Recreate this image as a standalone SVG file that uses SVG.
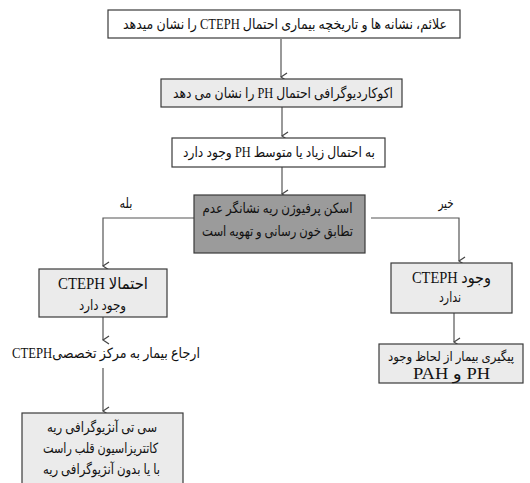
<svg xmlns="http://www.w3.org/2000/svg" width="530" height="483" viewBox="0 0 530 483">
<style>
.box{stroke:#3a3a3a;stroke-width:1.2}
.w{fill:#ffffff}
.l{fill:#ebebeb}
.d{fill:#9b9b9b}
text{font-family:"Liberation Serif","DejaVu Sans",serif;font-size:14px;fill:#111;text-anchor:middle;direction:rtl}
.big{font-size:16px}
.sm{font-size:13px}
.c{fill:none;stroke:#555;stroke-width:1.2}
</style>
<defs>
<marker id="ah" markerWidth="10" markerHeight="10" refX="5" refY="9" orient="auto" markerUnits="userSpaceOnUse" viewBox="0 0 10 10">
<path d="M1,3 L5,9 L9,3" fill="none" stroke="#444" stroke-width="1.3"/>
</marker>
</defs>
<rect x="0" y="0" width="530" height="483" fill="#fff"/>
<g id="connectors">
<line class="c" x1="281" y1="39" x2="281" y2="77" marker-end="url(#ah)"/>
<line class="c" x1="282" y1="107" x2="282" y2="136" marker-end="url(#ah)"/>
<line class="c" x1="282" y1="167" x2="282" y2="194" marker-end="url(#ah)"/>
<polyline class="c" points="194,218 103,218 103,266" marker-end="url(#ah)"/>
<polyline class="c" points="371,218 459,218 459,261" marker-end="url(#ah)"/>
<line class="c" x1="103" y1="317" x2="103" y2="340" marker-end="url(#ah)"/>
<line class="c" x1="103" y1="368" x2="103" y2="411" marker-end="url(#ah)"/>
<line class="c" x1="454" y1="313" x2="454" y2="342" marker-end="url(#ah)"/>
</g>
<g id="n1"><rect class="box w" x="108" y="10" width="352" height="28"/><text x="285" y="29" textLength="324" lengthAdjust="spacingAndGlyphs">علائم، نشانه ها و تاریخچه بیماری احتمال CTEPH را نشان میدهد</text></g>
<g id="n2"><rect class="box l" x="161" y="79" width="241" height="28"/><text x="283" y="98" textLength="220" lengthAdjust="spacingAndGlyphs">اکوکاردیوگرافی احتمال PH را نشان می دهد</text></g>
<g id="n3"><rect class="box w" x="172" y="138" width="213" height="29"/><text x="279" y="157" textLength="192" lengthAdjust="spacingAndGlyphs">به احتمال زیاد یا متوسط PH وجود دارد</text></g>
<g id="n4"><rect class="box d" x="194" y="195" width="171" height="58"/><text x="277.5" y="213" textLength="150" lengthAdjust="spacingAndGlyphs">اسکن پرفیوژن ریه نشانگر عدم</text><text x="277.5" y="236" textLength="151" lengthAdjust="spacingAndGlyphs">تطابق خون رسانی و تهویه است</text></g>
<g id="lbl-yes"><text x="126" y="208" textLength="13" lengthAdjust="spacingAndGlyphs">بله</text></g>
<g id="lbl-no"><text x="446" y="208" textLength="15" lengthAdjust="spacingAndGlyphs">خیر</text></g>
<g id="n5"><rect class="box l" x="39" y="269" width="128" height="48"/><text class="big" x="103" y="289" textLength="90" lengthAdjust="spacingAndGlyphs">احتمالا CTEPH</text><text x="102.5" y="310" textLength="47" lengthAdjust="spacingAndGlyphs">وجود دارد</text></g>
<g id="n6"><rect class="box l" x="391" y="263" width="121" height="50"/><text class="big" x="451.5" y="283" textLength="79" lengthAdjust="spacingAndGlyphs">وجود CTEPH</text><text x="450" y="302" textLength="22" lengthAdjust="spacingAndGlyphs">ندارد</text></g>
<g id="n7"><rect class="box l" x="379" y="344" width="144" height="39"/><text class="sm" x="451" y="361" textLength="126" lengthAdjust="spacingAndGlyphs">پیگیری بیمار از لحاظ وجود</text><text class="big" x="451.5" y="379" textLength="77" lengthAdjust="spacingAndGlyphs">PH و PAH</text></g>
<g id="n-ref"><text x="106" y="358" textLength="188" lengthAdjust="spacingAndGlyphs">ارجاع بیمار به مرکز تخصصیCTEPH</text></g>
<g id="n8"><rect class="box l" x="22" y="413" width="161" height="80"/><text x="102" y="432" textLength="110" lengthAdjust="spacingAndGlyphs">سی تی آنژیوگرافی ریه</text><text x="100.5" y="453" textLength="115" lengthAdjust="spacingAndGlyphs">کاتتریزاسیون قلب راست</text><text x="101.5" y="474" textLength="117" lengthAdjust="spacingAndGlyphs">با یا بدون آنژیوگرافی ریه</text></g>
</svg>
